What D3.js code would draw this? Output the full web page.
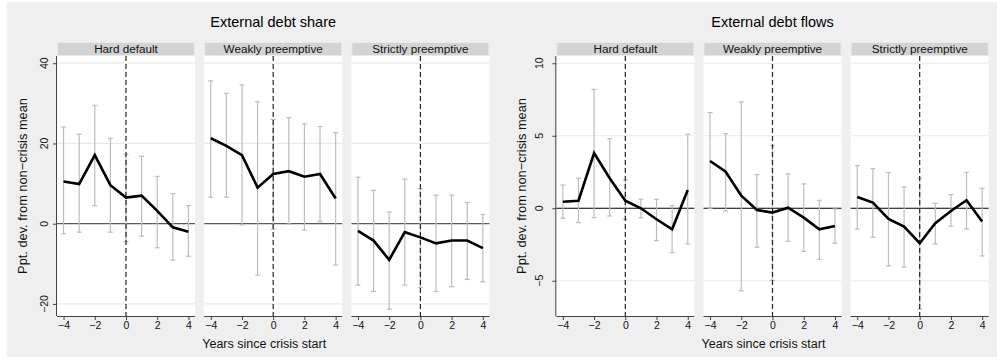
<!DOCTYPE html>
<html>
<head>
<meta charset="utf-8">
<script src="https://cdn.jsdelivr.net/npm/d3@7"></script>
<style>
  html, body { margin: 0; padding: 0; background: #ffffff; }
  svg { display: block; font-family: "Liberation Sans", Arial, Helvetica, sans-serif; }
</style>
</head>
<body>
<svg id="chart" width="997" height="364"></svg>
<script>
// ---------------- DATA ----------------
const years = [-4, -3, -2, -1, 0, 1, 2, 3, 4];
const panelNames = ["Hard default", "Weakly preemptive", "Strictly preemptive"];
const xTicks = [-4, -2, 0, 2, 4];
const figureTitles = ["External debt share", "External debt flows"];
const yAxisTitle = "Ppt. dev. from non\u2212crisis mean";
const xAxisTitle = "Years since crisis start";
const shareTicks = [-20, 0, 20, 40];
const flowTicks = [-5, 0, 5, 10];

// External debt share
const shareHardCoef   = [10.5, 9.9, 17.1, 9.6, 6.5, 7.0, 3.2, -0.9, -2.0];
const shareHardLo     = [-2.5, -2.1, 4.5, -2.1, -4.5, -3.1, -6.0, -9.1, -8.1];
const shareHardHi     = [24.1, 22.3, 29.5, 21.3, 17.3, 16.8, 11.8, 7.5, 4.5];
const shareWeakCoef   = [21.3, 19.4, 17.1, 9.0, 12.4, 13.1, 11.7, 12.4, 6.3];
const shareWeakLo     = [6.6, 6.6, -0.3, -12.8, -1.4, -0.1, -1.6, 0.5, -10.3];
const shareWeakHi     = [35.6, 32.5, 34.6, 30.4, 26.0, 26.4, 24.9, 24.2, 22.7];
const shareStrictCoef = [-1.8, -4.2, -9.0, -2.1, -3.4, -4.9, -4.2, -4.2, -6.1];
const shareStrictLo   = [-15.3, -16.9, -21.3, -15.3, -15.9, -16.9, -15.7, -13.9, -14.5];
const shareStrictHi   = [11.6, 8.3, 2.9, 11.1, 8.7, 7.1, 7.1, 5.3, 2.3];

// External debt flows
const flowHardCoef   = [0.45, 0.52, 3.8, 2.07, 0.52, 0.0, -0.76, -1.45, 1.26];
const flowHardLo     = [-0.69, -0.99, -0.65, -0.53, -0.76, -0.65, -2.23, -3.06, -2.46];
const flowHardHi     = [1.6, 2.07, 8.2, 4.8, 1.95, 0.62, 0.62, 0.18, 5.1];
const flowWeakCoef   = [3.26, 2.52, 0.87, -0.12, -0.3, 0.04, -0.65, -1.45, -1.22];
const flowWeakLo     = [0.0, -0.19, -5.7, -2.69, -4.97, -2.28, -2.97, -3.52, -2.41];
const flowWeakHi     = [6.6, 5.14, 7.33, 2.32, 4.32, 2.37, 1.68, 0.55, -0.05];
const flowStrictCoef = [0.78, 0.39, -0.74, -1.27, -2.41, -1.03, -0.19, 0.55, -0.92];
const flowStrictLo   = [-1.43, -2.0, -3.98, -4.05, -6.97, -2.46, -1.24, -1.43, -3.29];
const flowStrictHi   = [2.94, 2.73, 2.46, 1.47, 2.07, 0.34, 0.94, 2.48, 1.38];

// ---------------- LAYOUT ----------------
const svg = d3.select("#chart");
svg.append("rect").attr("x", 0).attr("y", 0).attr("width", 997).attr("height", 364).attr("fill", "#ffffff");
svg.append("rect").attr("x", 7).attr("y", 2).attr("width", 990).attr("height", 355).attr("fill", "#efefef");

const plotTop = 56, plotBottom = 316, stripTop = 42;
const panelW = 138, panelStep = 147.2;

const figures = [
  {
    title: figureTitles[0], x0: 57, yDomain: [-23.0, 41.8], ticks: shareTicks,
    zeroColor: "#5a5a5a", tickLabelGap: 5,
    panels: [
      {coef: shareHardCoef, lo: shareHardLo, hi: shareHardHi},
      {coef: shareWeakCoef, lo: shareWeakLo, hi: shareWeakHi},
      {coef: shareStrictCoef, lo: shareStrictLo, hi: shareStrictHi}
    ]
  },
  {
    title: figureTitles[1], x0: 556.3, yDomain: [-7.43, 10.5], ticks: flowTicks,
    zeroColor: "#000000", tickLabelGap: 9,
    panels: [
      {coef: flowHardCoef, lo: flowHardLo, hi: flowHardHi},
      {coef: flowWeakCoef, lo: flowWeakLo, hi: flowWeakHi},
      {coef: flowStrictCoef, lo: flowStrictLo, hi: flowStrictHi}
    ]
  }
];

const fmt = d => (d < 0 ? "\u2212" + Math.abs(d) : String(d));

figures.forEach(fig => {
  const y = d3.scaleLinear().domain(fig.yDomain).range([plotBottom, plotTop]);
  const g = svg.append("g");
  const left = fig.x0;
  const right = fig.x0 + 2 * panelStep + panelW;

  // Title
  g.append("text").attr("x", (left + right) / 2).attr("y", 27)
    .attr("text-anchor", "middle").attr("font-size", 14.5).attr("fill", "#000")
    .text(fig.title);

  fig.panels.forEach((p, i) => {
    const px = fig.x0 + i * panelStep;
    const x = d3.scaleLinear().domain([-4.42, 4.42]).range([px, px + panelW]);
    const pg = g.append("g");

    // strip
    pg.append("rect").attr("x", px + 0.5).attr("y", stripTop + 0.5)
      .attr("width", panelW - 1).attr("height", plotTop - stripTop - 1)
      .attr("fill", "#d3d3d3").attr("stroke", "#e6ecee").attr("stroke-width", 1);
    pg.append("text").attr("x", px + panelW / 2).attr("y", plotTop - 3.5)
      .attr("text-anchor", "middle").attr("font-size", 11.7).attr("fill", "#111")
      .text(panelNames[i]);

    // plot area
    pg.append("rect").attr("x", px).attr("y", plotTop).attr("width", panelW)
      .attr("height", plotBottom - plotTop).attr("fill", "#ffffff");

    // gridlines
    pg.selectAll("line.grid").data(fig.ticks.filter(t => t !== 0)).enter().append("line")
      .attr("x1", px).attr("x2", px + panelW)
      .attr("y1", d => y(d)).attr("y2", d => y(d))
      .attr("stroke", "#eaeaea").attr("stroke-width", 1.2);

    // zero line
    pg.append("line").attr("x1", px).attr("x2", px + panelW)
      .attr("y1", y(0)).attr("y2", y(0))
      .attr("stroke", fig.zeroColor).attr("stroke-width", 1.2);

    // CI bars
    const ci = pg.append("g").attr("stroke", "#bdbdbd").attr("stroke-width", 1.2).attr("fill", "none");
    years.forEach((yr, j) => {
      const cx = x(yr);
      ci.append("line").attr("x1", cx).attr("x2", cx).attr("y1", y(p.lo[j])).attr("y2", y(p.hi[j]));
      ci.append("line").attr("x1", cx - 2.5).attr("x2", cx + 2.5).attr("y1", y(p.lo[j])).attr("y2", y(p.lo[j]));
      ci.append("line").attr("x1", cx - 2.5).attr("x2", cx + 2.5).attr("y1", y(p.hi[j])).attr("y2", y(p.hi[j]));
    });

    // dashed line at crisis start
    pg.append("line").attr("x1", x(0)).attr("x2", x(0))
      .attr("y1", plotTop).attr("y2", plotBottom)
      .attr("stroke", "#222").attr("stroke-width", 1.2).attr("stroke-dasharray", "5,3");

    // coefficient line
    const line = d3.line().x((d, j) => x(years[j])).y(d => y(d));
    pg.append("path").datum(p.coef).attr("d", line)
      .attr("fill", "none").attr("stroke", "#000").attr("stroke-width", 2.6)
      .attr("stroke-linejoin", "miter");

    // x axis
    const xa = pg.append("g").attr("transform", `translate(0,${plotBottom})`)
      .call(d3.axisBottom(x).tickValues(xTicks).tickSize(4).tickSizeOuter(0).tickFormat(fmt));
    xa.select(".domain").attr("stroke", "#444").attr("d", `M${px},0.5H${px + panelW}`);
    xa.selectAll(".tick line").attr("stroke", "#444");
    xa.selectAll(".tick text").attr("font-size", 10.5).attr("fill", "#111").attr("y", 6).attr("dy", "0.71em")
      .attr("font-family", "Liberation Sans, Arial, sans-serif");

    // y axis only in first panel
    if (i === 0) {
      const ya = pg.append("g").attr("transform", `translate(${px},0)`)
        .call(d3.axisLeft(y).tickValues(fig.ticks).tickSize(4).tickSizeOuter(0).tickFormat(() => ""));
      ya.select(".domain").attr("stroke", "#444").attr("d", `M-0.5,${plotTop}V${plotBottom}`);
      ya.selectAll(".tick line").attr("stroke", "#444");
      fig.ticks.forEach(t => {
        pg.append("text")
          .attr("transform", `translate(${px - 4 - fig.tickLabelGap},${y(t)}) rotate(-90)`)
          .attr("text-anchor", "middle").attr("font-size", 10.5).attr("fill", "#111")
          .text(fmt(t));
      });
      // y title
      pg.append("text")
        .attr("transform", `translate(${px - 30},${(plotTop + plotBottom) / 2}) rotate(-90)`)
        .attr("text-anchor", "middle").attr("font-size", 12.8).attr("fill", "#111")
        .text(yAxisTitle);
    }
  });

  // x title
  g.append("text").attr("x", (left + right) / 2 - 9).attr("y", 348)
    .attr("text-anchor", "middle").attr("font-size", 12.5).attr("fill", "#111")
    .text(xAxisTitle);
});
</script>
</body>
</html>
